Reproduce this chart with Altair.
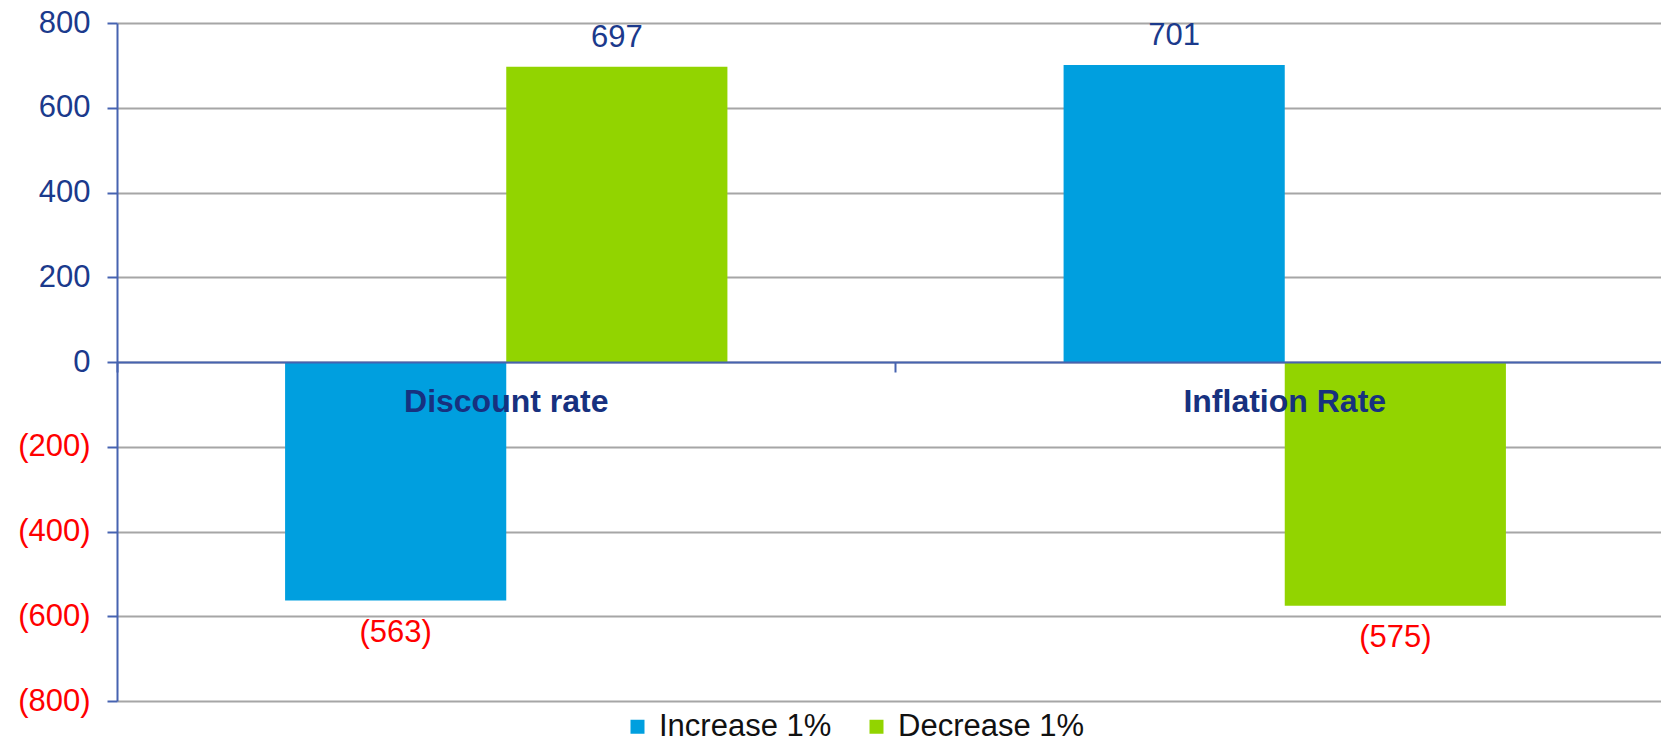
import altair as alt
import pandas as pd

# Sensitivity of the obligation to a 1% move in each assumption
categories = ["Discount rate", "Inflation Rate"]
series = ["Increase 1%", "Decrease 1%"]
increase_1pct = [-563, 701]
decrease_1pct = [697, -575]

colors = ["#009FDF", "#92D400"]
navy = "#1B3A8C"
red = "#FF0000"
axis_blue = "#4663B0"
font = "Liberation Sans"

rows = []
for i, cat in enumerate(categories):
    rows.append({"category": cat, "series": series[0], "value": increase_1pct[i]})
    rows.append({"category": cat, "series": series[1], "value": decrease_1pct[i]})
df = pd.DataFrame(rows)

label_expr = "datum.value < 0 ? '(' + format(-datum.value, ',') + ')' : format(datum.value, ',')"

x_enc = alt.X(
    "category:N",
    sort=categories,
    title=None,
    scale=alt.Scale(range=[0, 1557], paddingInner=0, paddingOuter=0),
    axis=alt.Axis(
        orient="bottom",
        offset=-339,
        zindex=1,
        domainColor=axis_blue,
        domainWidth=2,
        ticks=True,
        tickColor=axis_blue,
        tickWidth=2,
        tickSize=10,
        bandPosition=0,
        labelAngle=0,
        labelFont=font,
        labelFontSize=32,
        labelFontWeight="bold",
        labelColor="#17317F",
        labelBaseline="alphabetic",
        labelPadding=39,
        labelLimit=0,
        grid=False,
    ),
)
xoff_enc = alt.XOffset(
    "series:N", sort=series, scale=alt.Scale(paddingInner=0, paddingOuter=0.76)
)
y_enc = alt.Y(
    "value:Q",
    stack=None,
    title=None,
    scale=alt.Scale(domain=[-800, 800], nice=False),
    axis=alt.Axis(
        values=[-800, -600, -400, -200, 0, 200, 400, 600, 800],
        labelExpr="datum.value < 0 ? '(' + format(-datum.value, ',') + ')' : format(datum.value, ',') + '\u00a0'",
        labelColor=alt.ExprRef(expr=f"datum.value < 0 ? '{red}' : '{navy}'"),
        labelFont=font,
        labelFontSize=31,
        labelPadding=17,
        domainColor=axis_blue,
        domainWidth=2,
        tickColor=axis_blue,
        tickWidth=2,
        tickSize=10,
        grid=True,
        gridColor="#A6A6A6",
        gridWidth=2,
    ),
)

base = alt.Chart(df).transform_calculate(label=label_expr)

bars = base.mark_bar().encode(
    x=x_enc,
    xOffset=xoff_enc,
    y=y_enc,
    color=alt.Color(
        "series:N",
        sort=series,
        scale=alt.Scale(domain=series, range=colors),
        legend=alt.Legend(
            title=None,
            orient="none",
            legendX=505,
            legendY=688,
            direction="horizontal",
            symbolType="square",
            symbolSize=196,
            symbolStrokeWidth=0,
            labelFont=font,
            labelFontSize=31,
            labelColor="#111111",
            labelOffset=6,
            labelLimit=0,
            columnPadding=29,
            padding=0,
        ),
    ),
)

pos_labels = base.transform_filter("datum.value > 0").mark_text(
    dy=-20, baseline="alphabetic", font=font, fontSize=31, color=navy
).encode(x=x_enc, xOffset=xoff_enc, y=y_enc, text="label:N")

neg_labels = base.transform_filter("datum.value < 0").mark_text(
    dy=41, baseline="alphabetic", font=font, fontSize=31, color=red
).encode(x=x_enc, xOffset=xoff_enc, y=y_enc, text="label:N")

chart = (
    alt.layer(bars, pos_labels, neg_labels)
    .properties(
        width=1544,
        height=678,
        autosize=alt.AutoSizeParams(type="none"),
        padding={"left": 117, "top": 23, "right": 0, "bottom": 43},
        background="white",
    )
    .configure_view(strokeWidth=0)
)

chart.save("out.html", embed_options={"renderer": "svg", "actions": False})
